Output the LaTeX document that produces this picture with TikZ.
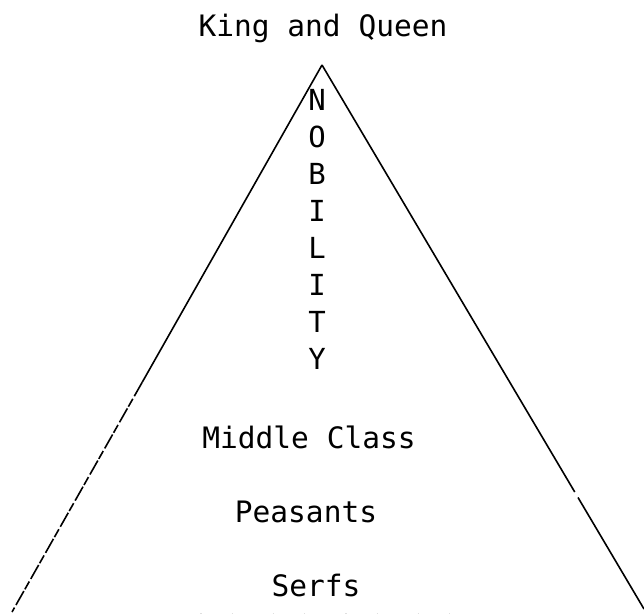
\documentclass[tikz,border=0pt]{standalone}
\usepackage{fontspec}
\usetikzlibrary{calc}
\setmonofont{DejaVu Sans Mono}
\newfontfamily\typew{DejaVu Sans Mono}
\begin{document}
\begin{tikzpicture}[x=1pt,y=-1pt,
  lbl/.style={font=\typew\fontsize{29.5}{30}\selectfont, anchor=base, inner sep=0pt},
  edge/.style={line width=1.6pt, black},
  lett/.style={font=\typew\fontsize{29}{30}\selectfont, anchor=base, inner sep=0pt}]
\useasboundingbox (0,0) rectangle (644,614);
\coordinate (apex) at (322,65);
\coordinate (bl) at (12,612);
\coordinate (br) at (644,609);
\coordinate (lm) at ($(apex)!0.58!(bl)$);
\coordinate (rg1) at ($(apex)!0.785!(br)$);
\coordinate (rg2) at ($(apex)!0.795!(br)$);
% left edge: solid upper part, broken lower part
\draw[edge] (apex) -- (lm);
\draw[edge, dash pattern=on 16pt off 3pt on 9pt off 2pt] (lm) -- (bl);
% right edge with a small gap
\draw[edge] (apex) -- (rg1);
\draw[edge] (rg2) -- (br);
% faint base marks
\coordinate (b1) at (200,613);
\coordinate (b2) at (484,613);
\draw[gray!25, line width=0.6pt, dash pattern=on 1.5pt off 30pt on 1pt off 40pt] (b1) -- (b2);
% labels
\node[lbl] (king) at (323,36) {King and Queen};
\node[lbl] (middle) at (309,448) {Middle Class};
\node[lbl] (peas) at (306,522) {Peasants};
\node[lbl] (serfs) at (316,596) {Serfs};
% NOBILITY
\foreach \c [count=\i from 0] in {N,O,B,I,L,I,T,Y}{
  \node[lett] (nob\i) at (317,{110+37.1*\i}) {\c};
}
\end{tikzpicture}
\end{document}
